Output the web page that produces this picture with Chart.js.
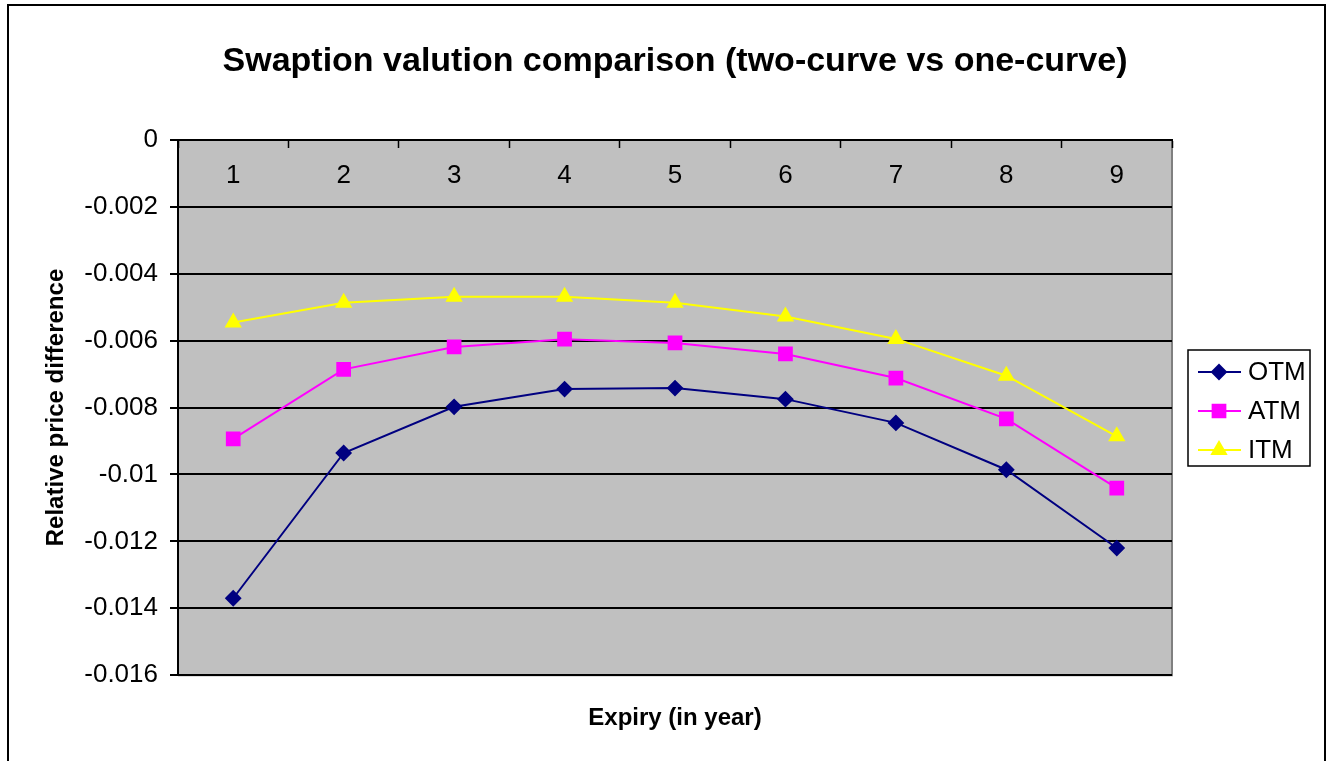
<!DOCTYPE html>
<html>
<head>
<meta charset="utf-8">
<script src="https://cdn.jsdelivr.net/npm/chart.js@4.4.1/dist/chart.umd.min.js"></script>
<style>
  html, body { margin: 0; padding: 0; background: #fff; }
  #wrap { width: 1331px; height: 761px; }
</style>
</head>
<body>
<div id="wrap"><canvas id="myChart" width="1331" height="761"></canvas></div>
<script>
let expiries = ['1', '2', '3', '4', '5', '6', '7', '8', '9'];
let otmArr = [-0.0137, -0.00936, -0.00798, -0.00745, -0.00742, -0.00775, -0.00846, -0.00986, -0.0122];
let atmArr = [-0.00894, -0.00686, -0.00619, -0.00596, -0.00607, -0.0064, -0.00712, -0.00834, -0.01041];
let itmArr = [-0.00546, -0.00487, -0.00469, -0.00469, -0.00487, -0.00528, -0.00595, -0.00705, -0.00886];
let yTicks = [0, -0.002, -0.004, -0.006, -0.008, -0.01, -0.012, -0.014, -0.016];

const font = 'Liberation Sans, Arial, sans-serif';

// gray plot background + outer frame
const frame = {
  id: 'frame',
  beforeDraw(chart) {
    const ctx = chart.ctx;
    const a = chart.chartArea;
    ctx.save();
    ctx.fillStyle = '#fff';
    ctx.fillRect(0, 0, chart.width, chart.height);
    ctx.strokeStyle = '#000';
    ctx.lineWidth = 2;
    ctx.strokeRect(8, 5, 1317, chart.height + 20);
    ctx.fillStyle = '#C0C0C0';
    ctx.fillRect(a.left, a.top, a.right - a.left, a.bottom - a.top);
    ctx.strokeStyle = '#808080';
    ctx.lineWidth = 2;
    ctx.beginPath();
    ctx.moveTo(a.right, a.top);
    ctx.lineTo(a.right, a.bottom);
    ctx.lineTo(a.left, a.bottom);
    ctx.stroke();
    ctx.restore();
  }
};

// excel style legend box
const legendBox = {
  id: 'legendBox',
  afterDraw(chart) {
    const ctx = chart.ctx;
    ctx.save();
    ctx.strokeStyle = '#000';
    ctx.lineWidth = 1.5;
    ctx.strokeRect(1188, 350, 122, 116);
    chart.data.datasets.forEach((ds, i) => {
      const y = 372 + i * 39;
      ctx.strokeStyle = ds.borderColor;
      ctx.lineWidth = 2;
      ctx.beginPath();
      ctx.moveTo(1198, y);
      ctx.lineTo(1241, y);
      ctx.stroke();
      ctx.fillStyle = ds.pointBackgroundColor;
      ctx.strokeStyle = ds.borderColor;
      Chart.helpers.drawPoint(ctx, {
        pointStyle: ds.pointStyle,
        radius: ds.pointRadius,
        rotation: 0,
        borderWidth: 1
      }, 1219, y);
      ctx.fillStyle = '#000';
      ctx.font = '26px ' + font;
      ctx.textBaseline = 'middle';
      ctx.textAlign = 'left';
      ctx.fillText(ds.label, 1248, y + 1);
    });
    ctx.restore();
  }
};

const ctx = document.getElementById('myChart').getContext('2d');
new Chart(ctx, {
  type: 'line',
  data: {
    labels: expiries,
    datasets: [
      {
        label: 'OTM',
        data: otmArr,
        borderColor: '#000080',
        backgroundColor: '#000080',
        pointBackgroundColor: '#000080',
        pointStyle: 'rectRot',
        pointRadius: 7,
        borderWidth: 2,
      },
      {
        label: 'ATM',
        data: atmArr,
        borderColor: '#FF00FF',
        backgroundColor: '#FF00FF',
        pointBackgroundColor: '#FF00FF',
        pointStyle: 'rect',
        pointRadius: 9,
        borderWidth: 2,
      },
      {
        label: 'ITM',
        data: itmArr,
        borderColor: '#FFFF00',
        backgroundColor: '#FFFF00',
        pointBackgroundColor: '#FFFF00',
        pointStyle: 'triangle',
        pointRadius: 8,
        borderWidth: 2,
      },
    ],
  },
  options: {
    responsive: false,
    animation: false,
    layout: {
      padding: { top: 10, left: 40, right: 159, bottom: 0 }
    },
    plugins: {
      legend: { display: false },
      tooltip: { enabled: false },
      title: {
        display: true,
        text: 'Swaption valution comparison (two-curve vs one-curve)',
        color: '#000',
        fullSize: false,
        font: { family: font, size: 34, weight: 'bold' },
        padding: { top: 31, bottom: 58 }
      },
      subtitle: {
        display: true,
        position: 'bottom',
        text: 'Expiry (in year)',
        color: '#000',
        fullSize: false,
        font: { family: font, size: 24, weight: 'bold' },
        padding: { top: 29, bottom: 28 }
      }
    },
    scales: {
      x: {
        type: 'category',
        position: { y: 0 },
        offset: true,
        grid: {
          offset: true,
          drawOnChartArea: false,
          tickLength: 7,
          tickColor: '#000',
          tickWidth: 1.5
        },
        border: { color: '#000', width: 2 },
        ticks: {
          color: '#000',
          padding: 13,
          maxRotation: 0,
          font: { family: font, size: 26 }
        },
        afterFit(scale) {
          scale.height = 0;
        }
      },
      y: {
        min: -0.016,
        max: 0,
        afterBuildTicks(scale) {
          scale.ticks = yTicks.map(v => ({ value: v }));
        },
        grid: {
          color: '#000',
          lineWidth: 2,
          tickLength: 8,
          tickColor: '#000'
        },
        border: { color: '#000', width: 2 },
        ticks: {
          color: '#000',
          padding: 12,
          font: { family: font, size: 26 },
          callback: (v) => String(+v.toFixed(3))
        },
        title: {
          display: true,
          text: 'Relative price difference',
          color: '#000',
          font: { family: font, size: 24, weight: 'bold' },
          padding: { top: 2, bottom: 0 }
        },
        afterFit(scale) {
          scale.width = 138;
        }
      }
    }
  },
  plugins: [frame, legendBox]
});
</script>
</body>
</html>
